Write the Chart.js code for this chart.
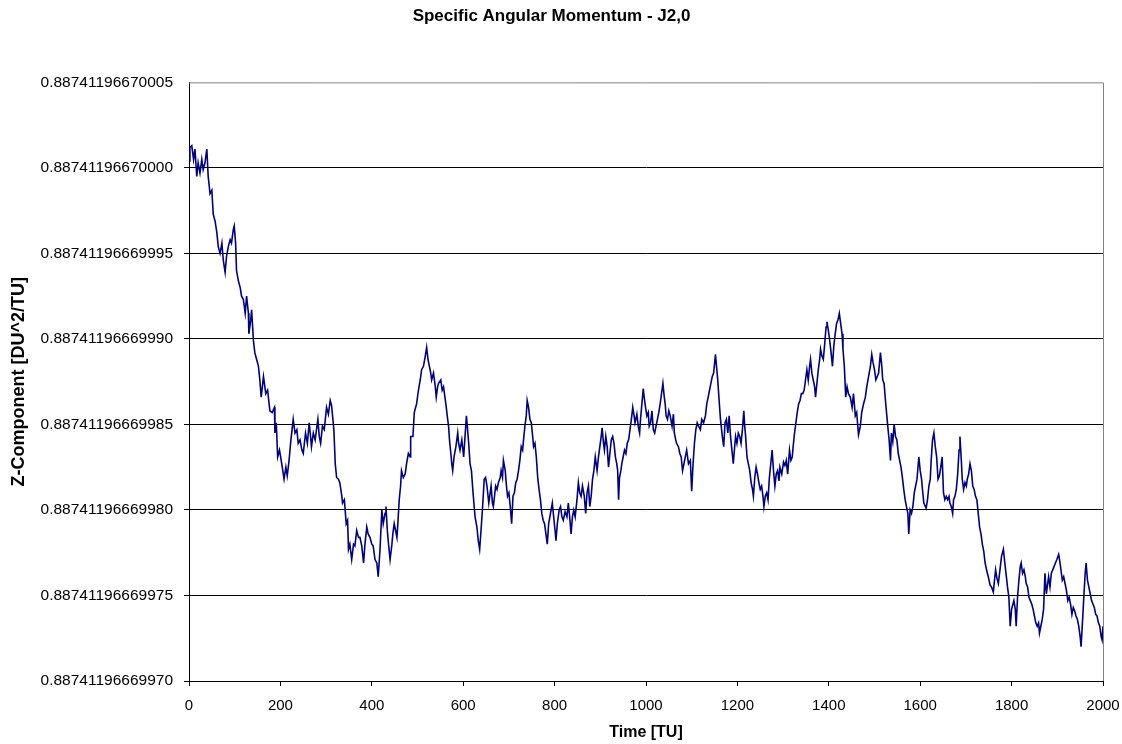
<!DOCTYPE html>
<html>
<head>
<meta charset="utf-8">
<title>Specific Angular Momentum - J2,0</title>
<script src="https://cdn.jsdelivr.net/npm/chart.js@4.4.0/dist/chart.umd.min.js"></script>
<style>
  body { margin: 0; background: #fff; }
  #chart { display: block; }
</style>
</head>
<body>
<canvas id="chart" width="1122" height="744"></canvas>
<script>
  // values are stored as offsets above 0.88741196669970, in units of 1e-14
  const yTickLabels = ['0.88741196669970', '0.88741196669975', '0.88741196669980', '0.88741196669985',
    '0.88741196669990', '0.88741196669995', '0.88741196670000', '0.88741196670005'];
  const xTickValues = [0, 200, 400, 600, 800, 1000, 1200, 1400, 1600, 1800, 2000];

  const times = [
    0, 2, 6, 10, 13, 17, 20, 24, 28, 31, 35, 39, 42, 46, 50, 53, 57, 61, 64, 68, 72, 75, 79, 82, 86, 90, 93, 97, 99,
    102, 104, 108, 112, 115, 119, 123, 126, 130, 131, 135, 137, 141, 144, 148, 152, 155, 158, 163, 168, 172, 177,
    182, 187, 188, 191, 194, 198, 203, 208, 212, 215, 219, 223, 228, 232, 236, 239, 243, 247, 250, 255, 259, 263,
    266, 268, 272, 276, 282, 285, 288, 292, 296, 301, 305, 309, 312,
    317, 320, 323, 327, 330, 334, 336, 340, 344, 347, 349, 352, 356, 360, 363, 367, 371, 374, 378, 382, 385, 389,
    392, 396, 400, 403, 407, 411, 414, 418, 422, 425, 429, 431, 434, 437, 440, 444, 446, 449, 452, 455, 457, 460,
    463, 465, 469, 473, 476, 480, 484, 485, 490, 493, 495, 498, 502, 506, 509, 513, 517, 520, 523, 526, 529, 531,
    535, 539, 541, 544, 546, 551, 554, 557, 560, 563, 566, 568, 570, 573, 575, 577, 580, 584, 588, 590, 593, 597,
    601, 604, 607, 609, 612, 615, 618, 621, 624, 626, 630, 633, 636, 639, 642, 646, 649, 652, 656,
    661, 664, 666, 671, 674, 677, 681, 683, 686, 688, 692, 694, 697, 700, 703, 706, 709, 712, 715, 718, 721, 724,
    727, 730, 732, 735, 738, 740, 743, 746, 749, 752, 754, 757, 760, 763, 766, 769, 772, 775, 778, 781, 784, 787,
    791, 795, 798, 801, 803, 806, 810, 813, 816, 819, 823, 827, 830, 833, 836, 839, 842, 845, 849, 852, 855, 858,
    861, 865, 868, 871, 874, 877, 880, 883, 886, 889, 893, 896, 899, 902, 904, 907, 909, 912, 915, 918, 921, 924,
    927, 930, 933, 936, 938, 940, 942, 945, 947, 950, 953, 956, 959, 962, 966, 968, 971,
    974, 976, 980, 983, 986, 988, 991, 994, 996, 999, 1002, 1005, 1007, 1010, 1013, 1016, 1019, 1022, 1025, 1028,
    1031, 1034, 1037, 1040, 1042, 1044, 1047, 1050, 1053, 1057, 1060, 1062, 1065, 1067, 1071, 1074, 1077, 1080,
    1083, 1086, 1089, 1093, 1097, 1100, 1103, 1106, 1109, 1112, 1115, 1119, 1122, 1126, 1130, 1133, 1136, 1139,
    1142, 1145, 1148, 1152, 1155, 1157, 1160, 1163, 1167, 1170, 1173, 1176, 1179, 1182, 1185, 1188, 1191, 1194,
    1196, 1199, 1202, 1205, 1208, 1211, 1214, 1216, 1218, 1221, 1224, 1227, 1230, 1233, 1235, 1238, 1241, 1244,
    1247, 1250, 1253, 1256, 1258, 1261, 1264, 1267, 1270, 1273, 1276, 1279, 1282, 1285, 1288, 1291,
    1293, 1297, 1301, 1304, 1307, 1310, 1314, 1317, 1320, 1322, 1325, 1328, 1331, 1334, 1337, 1340, 1343, 1346,
    1349, 1352, 1355, 1358, 1360, 1363, 1366, 1369, 1371, 1374, 1377, 1380, 1382, 1385, 1388, 1391, 1394, 1396,
    1399, 1402, 1405, 1408, 1411, 1414, 1417, 1420, 1423, 1426, 1429, 1431, 1434, 1437, 1440, 1443, 1447, 1451,
    1454, 1458, 1461, 1465, 1469, 1472, 1476, 1480, 1483, 1487, 1491, 1494, 1497, 1500, 1503, 1506, 1509, 1513,
    1516, 1518, 1521, 1524, 1527, 1529, 1532, 1535, 1537, 1540, 1543, 1546, 1549, 1552, 1555, 1558, 1561, 1564,
    1567, 1570, 1573, 1575, 1578, 1581, 1584, 1587, 1590, 1593, 1597, 1600, 1603, 1605, 1608,
    1613, 1616, 1619, 1622, 1624, 1627, 1630, 1633, 1636, 1639, 1642, 1645, 1648, 1651, 1654, 1657, 1660, 1663,
    1665, 1668, 1671, 1673, 1676, 1679, 1682, 1685, 1687, 1690, 1692, 1695, 1698, 1701, 1703, 1706, 1709, 1712,
    1715, 1718, 1721, 1724, 1727, 1730, 1733, 1736, 1739, 1742, 1746, 1749, 1753, 1756, 1760, 1763, 1765, 1768,
    1771, 1775, 1778, 1782, 1786, 1789, 1791, 1794, 1797, 1800, 1802, 1805, 1808, 1810, 1813, 1816, 1819, 1821,
    1824, 1827, 1830, 1832, 1835, 1838, 1841, 1844, 1847, 1850, 1853, 1856, 1859, 1861, 1864, 1867, 1870, 1873,
    1876, 1879, 1881, 1884, 1887, 1890, 1893, 1896, 1899, 1903, 1906, 1909, 1911, 1914, 1917, 1920, 1923, 1926,
    1929, 1932, 1935, 1938, 1941, 1944, 1947, 1950, 1952, 1955, 1958, 1961, 1963, 1966, 1969, 1972, 1975, 1978,
    1981, 1984, 1987, 1990, 1993, 1996, 1998, 2000
  ];

  const momentumZ = [
    30.4, 31.2, 31.3, 30.5, 31.1, 29.5, 30.3, 29.7, 30.5, 29.9, 30.3, 31.1, 29.5, 28.5, 28.7, 27.3, 26.9, 26.2, 25.4,
    25.0, 25.6, 24.6, 23.9, 24.8, 25.4, 25.8, 25.6, 26.4, 26.6, 25.6, 24.0, 23.4, 23.0, 22.5, 22.3, 21.5, 22.5, 21.5,
    20.3, 21.1, 21.7, 19.9, 19.2, 18.8, 18.4, 17.6, 16.6, 17.8, 16.8, 17.0, 15.8, 15.7, 16.0, 14.5, 15.1, 13.1, 13.5,
    12.7, 11.8, 12.5, 12.0, 12.9, 14.1, 15.3, 14.5, 14.7, 13.9, 14.1, 13.5, 13.3, 14.5, 13.9, 15.1, 14.3, 13.7, 14.5,
    14.1, 15.3, 14.3, 13.9, 14.9, 14.7, 16.0, 15.6, 16.4, 16.1,
    14.7, 12.7, 11.9, 11.8, 11.6, 10.9, 10.4, 10.6, 9.2, 9.4, 7.7, 8.0, 7.1, 8.0, 7.9, 8.8, 8.4, 8.4, 7.9, 6.9, 8.0,
    9.0, 8.6, 8.4, 8.0, 7.9, 7.1, 6.9, 6.1, 7.7, 10.0, 9.2, 9.8, 10.2, 8.8, 7.9, 7.1, 8.0, 8.6, 9.2, 8.8, 8.4, 9.2,
    10.6, 11.4, 12.3, 11.9, 12.1, 12.7, 13.3, 13.1, 14.3, 14.3, 15.7, 15.9, 16.2, 17.0, 17.6, 18.2, 18.4, 19.0, 19.5,
    18.8, 18.4, 18.0, 17.6, 18.0, 17.2, 16.6, 17.2, 17.4, 17.6, 17.0, 17.2, 16.6, 16.0, 15.3, 14.9, 14.1, 13.3, 12.7,
    12.3, 13.1, 13.7, 14.5, 13.9, 13.5, 14.1, 13.1, 14.3, 15.5, 14.9, 13.9, 12.7, 12.3, 11.2, 10.2, 9.6, 9.0, 8.2,
    7.7, 8.8, 10.0, 11.8, 11.9, 11.4, 10.4,
    11.4, 10.4, 10.2, 11.4, 11.2, 11.6, 11.9, 12.3, 11.9, 12.9, 12.3, 11.6, 10.8, 11.0, 10.2, 9.2, 10.8, 11.0, 11.6,
    11.8, 12.3, 12.9, 13.7, 13.5, 14.1, 14.9, 15.5, 16.4, 16.0, 15.3, 15.1, 14.3, 13.7, 13.9, 13.1, 11.9, 11.2, 10.6,
    9.8, 9.4, 9.2, 8.6, 8.0, 9.2, 9.8, 10.4, 9.6, 8.8, 8.2, 9.2, 10.0, 10.2, 9.6, 9.4, 9.9, 9.6, 10.4, 9.6, 8.6, 9.6,
    10.0, 9.6, 10.6, 11.6, 11.0, 10.8, 11.4, 10.8, 9.8, 11.0, 11.4, 10.2, 10.8, 11.8, 12.3, 13.1, 12.3, 13.1, 13.7,
    14.3, 14.8, 13.9, 13.5, 14.3, 13.7, 12.5, 13.3, 14.1, 14.3, 13.9, 13.1, 12.7, 12.3, 10.6, 11.9, 12.3, 12.7, 13.1,
    13.5, 13.3, 13.9, 14.1, 14.9, 15.3, 16.0,
    15.5, 15.1, 15.6, 14.9, 14.5, 15.3, 16.2, 17.1, 16.6, 16.0, 15.5, 15.7, 14.9, 15.1, 15.8, 14.7, 14.5, 14.9, 15.3,
    15.7, 16.2, 16.8, 17.4, 16.6, 16.2, 15.5, 15.3, 15.8, 15.5, 14.9, 15.6, 14.5, 14.1, 13.9, 13.7, 13.3, 13.1, 12.3,
    12.7, 13.1, 13.5, 12.7, 12.9, 11.1, 12.7, 13.9, 14.7, 15.1, 14.9, 14.7, 15.3, 15.1, 15.5, 16.2, 16.6, 17.0, 17.4,
    17.8, 18.0, 19.1, 18.2, 17.6, 16.4, 15.3, 14.3, 13.7, 15.1, 15.3, 14.5, 15.5, 14.3, 13.5, 12.7, 13.7, 14.3, 13.9,
    14.5, 14.3, 13.9, 14.7, 15.8, 14.9, 14.3, 13.1, 12.7, 12.3, 11.6, 11.2, 10.8, 11.9, 12.5, 12.1, 11.6, 11.2, 11.4,
    10.8, 10.2, 10.8, 11.0, 10.6, 11.9, 12.7, 13.5, 12.3, 11.4, 12.1, 12.3, 11.7,
    12.5, 12.1, 12.8, 12.6, 12.9, 12.1, 13.5, 12.9, 13.1, 13.7, 14.5, 15.1, 15.7, 16.2, 16.4, 16.8, 16.8, 17.0, 17.6,
    18.2, 17.6, 18.4, 18.8, 18.0, 17.6, 17.2, 16.6, 17.4, 18.2, 18.8, 19.4, 19.0, 18.8, 19.7, 20.7, 21.0, 20.5, 19.9,
    19.2, 18.4, 19.6, 20.3, 20.9, 21.1, 21.5, 20.9, 20.3, 19.4, 18.4, 16.6, 17.2, 16.8, 16.6, 16.0, 16.8, 15.5, 15.7,
    14.4, 14.9, 15.7, 16.2, 16.6, 17.2, 17.8, 18.4, 19.1, 18.6, 18.2, 17.6, 17.8, 18.0, 19.2, 18.4, 17.6, 17.4, 16.4,
    15.5, 14.9, 14.1, 12.9, 14.5, 14.0, 15.0, 14.3, 14.1, 13.3, 12.9, 12.5, 11.9, 11.2, 10.6, 10.2, 9.8, 8.6, 10.0,
    9.8, 10.2, 11.0, 11.4, 11.8, 13.1, 12.3, 11.8, 11.2, 10.4,
    10.1, 10.6, 11.4, 11.8, 12.9, 14.1, 14.5, 13.7, 13.1, 11.8, 12.0, 12.5, 13.1, 11.0, 10.6, 10.8, 10.6, 10.8, 10.4,
    10.2, 9.8, 10.6, 10.8, 11.2, 12.1, 13.5, 14.3, 12.9, 11.8, 11.2, 11.6, 11.4, 11.8, 12.1, 12.7, 12.3, 11.4, 11.2,
    10.8, 10.6, 9.8, 9.0, 8.6, 8.0, 7.6, 6.9, 6.4, 6.1, 5.6, 5.5, 5.2, 6.0, 6.5, 6.0, 5.7, 6.6, 7.3, 7.7, 6.7, 6.0,
    5.5, 4.9, 3.2, 4.2, 4.4, 4.7, 4.2, 3.2, 4.9, 5.9, 6.7, 6.9, 6.3, 6.5, 6.1, 5.7, 5.5, 4.9, 4.7, 4.5, 4.2, 3.8, 3.4,
    3.2, 3.4, 2.8, 3.2, 3.6, 4.2, 6.3, 5.1, 5.7, 6.1, 5.5, 6.3, 6.5, 6.7, 6.9, 7.1, 7.4, 6.9, 6.3, 5.9, 6.1, 5.7, 5.3,
    4.7, 4.9, 4.5, 3.9, 4.3, 4.1, 3.8, 3.6, 3.2, 2.6, 2.0, 3.4, 4.9, 6.3, 6.9, 5.9, 5.5, 5.1, 4.7, 4.5, 4.3, 3.9, 3.8,
    3.4, 3.2, 2.6, 2.4, 3.2
  ];

  if (times.length !== momentumZ.length) console.error('length mismatch', times.length, momentumZ.length);

  const points = times.map((t, i) => ({ x: t, y: momentumZ[i] }));

  // gray frame on top and right of plot area, like the old excel look
  const plotFrame = {
    id: 'plotFrame',
    afterDraw(chart) {
      const { ctx, chartArea } = chart;
      ctx.save();
      ctx.strokeStyle = '#808080';
      ctx.lineWidth = 1;
      ctx.beginPath();
      ctx.moveTo(chartArea.left, chartArea.top + 0.5);
      ctx.lineTo(chartArea.right + 0.5, chartArea.top + 0.5);
      ctx.lineTo(chartArea.right + 0.5, chartArea.bottom);
      ctx.stroke();
      ctx.restore();
    }
  };

  const font = 'Arial, "Liberation Sans", sans-serif';

  new Chart(document.getElementById('chart').getContext('2d'), {
    type: 'line',
    data: {
      datasets: [{
        label: 'Z-Component',
        data: points,
        borderColor: '#000080',
        borderWidth: 1.6,
        pointRadius: 0,
        tension: 0,
        fill: false
      }]
    },
    options: {
      responsive: false,
      animation: false,
      layout: { padding: { left: 0, right: 19, top: 0, bottom: 0 } },
      plugins: {
        legend: { display: false },
        tooltip: { enabled: false },
        title: {
          display: true,
          text: 'Specific Angular Momentum - J2,0',
          color: '#000',
          font: { family: font, size: 17, weight: 'bold' },
          padding: { top: 6, bottom: 56 }
        }
      },
      scales: {
        x: {
          type: 'linear',
          min: 0,
          max: 2000,
          afterFit: s => { s.height = 63; s.paddingLeft = 0; s.paddingRight = 0; },
          afterBuildTicks: s => { s.ticks = xTickValues.map(v => ({ value: v })); },
          ticks: {
            color: '#000',
            padding: 11,
            maxRotation: 0,
            font: { family: font, size: 15 },
            callback: v => String(v)
          },
          grid: { drawOnChartArea: false, drawTicks: true, tickLength: 5, color: '#000' },
          border: { display: true, color: '#000', width: 1 },
          title: {
            display: true,
            text: 'Time [TU]',
            color: '#000',
            font: { family: font, size: 16, weight: 'bold' },
            padding: { top: 0, bottom: 2 }
          }
        },
        y: {
          type: 'linear',
          min: 0,
          max: 35,
          afterFit: s => { s.width = 189; s.paddingTop = 0; s.paddingBottom = 0; },
          ticks: {
            stepSize: 5,
            color: '#000',
            padding: 11,
            font: { family: font, size: 15.5 },
            callback: v => yTickLabels[Math.round(v / 5)]
          },
          grid: {
            drawTicks: true,
            tickLength: 5,
            color: ctx => (ctx.tick && ctx.tick.value === 35 ? 'rgba(0,0,0,0)' : '#000'),
            lineWidth: 1
          },
          border: { display: true, color: '#000', width: 1 },
          title: {
            display: true,
            text: 'Z-Component [DU^2/TU]',
            color: '#000',
            font: { family: font, size: 18, weight: 'bold' },
            padding: { top: 8, bottom: 0 }
          }
        }
      }
    },
    plugins: [plotFrame]
  });
</script>
</body>
</html>
